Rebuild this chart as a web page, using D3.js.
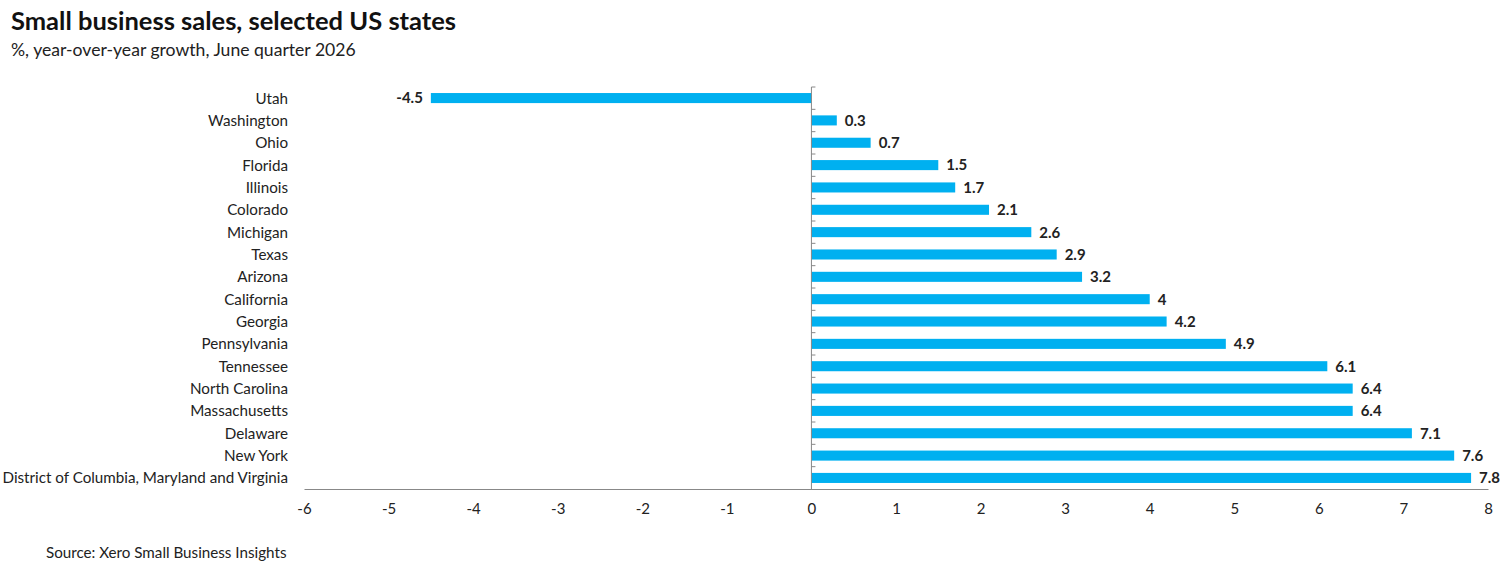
<!DOCTYPE html>
<html><head><meta charset="utf-8">
<script src="https://cdn.jsdelivr.net/npm/d3@7"></script>
<style>body{margin:0;background:#fff}svg{display:block}text{font-family:Lato,"Open Sans",sans-serif}</style>
</head><body><svg id="c" width="1500" height="570"></svg>
<script>
const categories = ["Utah","Washington","Ohio","Florida","Illinois","Colorado","Michigan","Texas","Arizona","California","Georgia","Pennsylvania","Tennessee","North Carolina","Massachusetts","Delaware","New York","District of Columbia, Maryland and Virginia"];
const values = [-4.5,0.3,0.7,1.5,1.7,2.1,2.6,2.9,3.2,4,4.2,4.9,6.1,6.4,6.4,7.1,7.6,7.8];
const xTicks = [-6,-5,-4,-3,-2,-1,0,1,2,3,4,5,6,7,8];
const title = "Small business sales, selected US states";
const subtitle = "%, year-over-year growth, June quarter 2026";
const source = "Source: Xero Small Business Insights";

(function(){
const svg = d3.select("#c");
const plotTop = 87, plotBottom = 489;
const x = d3.scaleLinear().domain([-6,8]).range([304,1488]);
const y = d3.scaleBand().domain(categories).range([plotTop,plotBottom]).paddingInner(0.55).paddingOuter(0.27);
const color = "#00b0f0";

svg.append("text").attr("x",11).attr("y",30).attr("font-size",25.5).attr("font-weight","bold").attr("fill","#111").text(title);
svg.append("text").attr("x",11).attr("y",56).attr("font-size",17.6).attr("fill","#222").text(subtitle);

svg.selectAll("rect.bar").data(values).join("rect").attr("class","bar")
  .attr("x",(d)=>x(Math.min(0,d))).attr("width",d=>Math.abs(x(d)-x(0)))
  .attr("y",(d,i)=>y(categories[i])).attr("height",y.bandwidth()).attr("fill",color);

svg.selectAll("text.val").data(values).join("text").attr("class","val")
  .attr("x",d=>d<0? x(d)-8 : x(d)+8)
  .attr("y",(d,i)=>y(categories[i])+y.bandwidth()/2).attr("dy","0.36em")
  .attr("text-anchor",d=>d<0?"end":"start")
  .attr("font-size",15).attr("font-weight","bold").attr("fill","#222")
  .text(d=>d);

svg.selectAll("text.cat").data(categories).join("text").attr("class","cat")
  .attr("x",288).attr("y",d=>y(d)+y.bandwidth()/2).attr("dy","0.36em")
  .attr("text-anchor","end").attr("font-size",15.2).attr("fill","#222").text(d=>d);

svg.append("line").attr("x1",x(0)).attr("x2",x(0)).attr("y1",plotTop).attr("y2",plotBottom).attr("stroke","#888");
const bounds = d3.range(categories.length).map(i=>plotTop + (plotBottom-plotTop)/categories.length*i);
svg.selectAll("line.vt").data(bounds).join("line").attr("class","vt")
  .attr("x1",x(0)).attr("x2",x(0)+4).attr("y1",d=>d).attr("y2",d=>d).attr("stroke","#888");

const xAxis = svg.append("g").attr("transform",`translate(0,${plotBottom})`)
  .call(d3.axisBottom(x).tickValues(xTicks).tickSize(0).tickPadding(14).tickFormat(d=>d));
xAxis.select(".domain").attr("stroke","#888");
xAxis.selectAll("text").attr("font-size",15).attr("fill","#222").attr("font-family","Lato,'Open Sans',sans-serif");

svg.append("text").attr("x",46).attr("y",558).attr("font-size",15.2).attr("fill","#222").text(source);
})();
</script></body></html>
